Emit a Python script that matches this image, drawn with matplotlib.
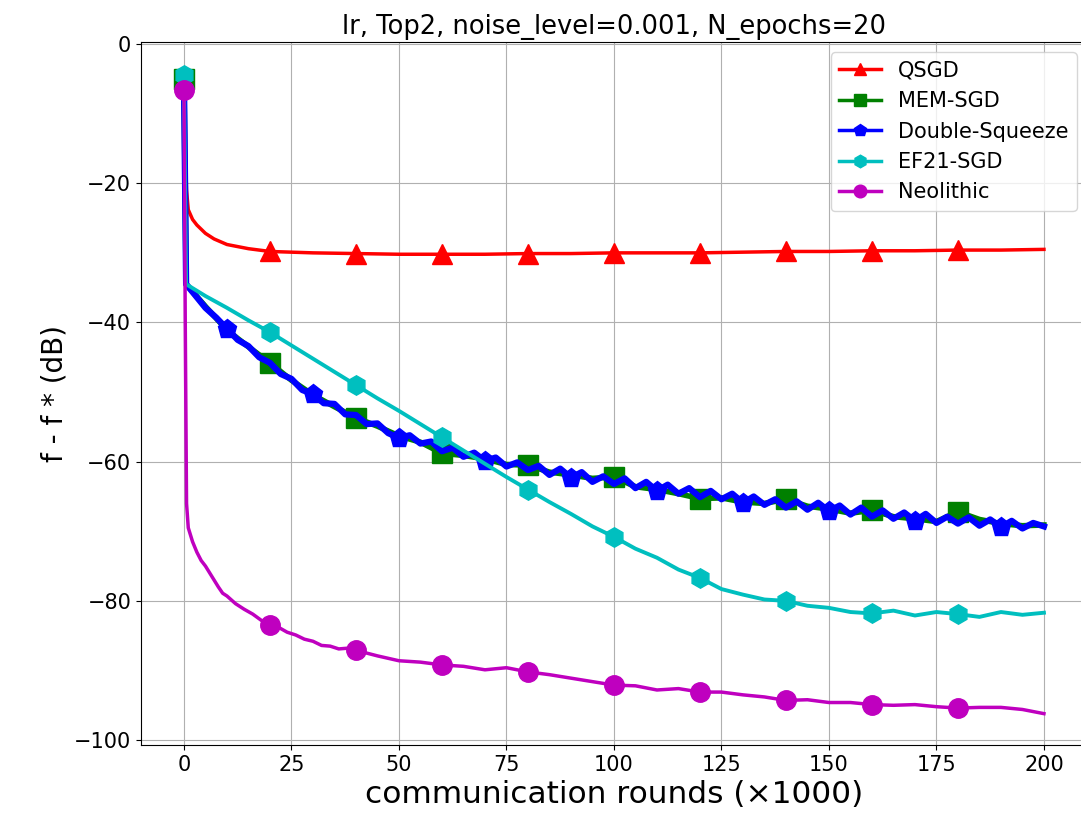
import matplotlib
matplotlib.use("Agg")
import matplotlib.pyplot as plt
import numpy as np

# x en miles de rondas de comunicacion
# QSGD
x_qsgd = [0, 0.3, 0.6, 1, 2, 3, 5, 7, 10, 15, 20, 30, 40, 50, 60, 70, 80, 90, 100,
          110, 120, 130, 140, 150, 160, 170, 180, 190, 200]
y_qsgd = [-5.0, -15.0, -21.0, -23.8, -25.2, -26.0, -27.2, -28.0, -28.8, -29.4, -29.8,
          -30.0, -30.1, -30.2, -30.2, -30.2, -30.1, -30.1, -30.0, -30.0, -30.0, -29.9,
          -29.8, -29.8, -29.7, -29.7, -29.6, -29.6, -29.5]

# MEM-SGD
x_mem = np.concatenate([[0, 0.5], np.arange(5, 200.1, 5)])
y_mem = [-5.0, -34.5,
         -37.7, -41.1, -43.5, -45.8, -48.3, -50.4, -52.1, -53.7,
         -54.9, -56.3, -57.2, -58.8, -59.1, -59.6, -60.4, -60.5,
         -61.5, -61.9, -62.4, -62.2, -63.6, -64.0, -64.6, -65.3,
         -65.2, -65.8, -66.0, -65.4, -66.4, -66.8, -67.4, -67.0,
         -67.9, -68.2, -68.6, -67.2, -68.3, -68.9, -69.2, -69.1]

# Double-Squeeze
x_ds = np.concatenate([[0, 0.5], np.arange(2.5, 200.1, 2.5)])
y_ds = [-5.0, -34.5,
        -36.0, -37.9, -39.3, -40.9, -42.5, -43.4, -45.0, -45.8,
        -47.4, -48.1, -49.7, -50.3, -51.6, -51.7, -53.2, -53.3,
        -54.6, -54.5, -55.9, -56.6, -56.2, -57.4, -57.1, -58.5,
        -58.0, -59.3, -58.7, -59.9, -59.4, -60.7, -60.1, -61.2,
        -60.6, -61.9, -61.0, -62.3, -61.5, -62.9, -62.1, -63.2,
        -62.4, -63.8, -62.9, -64.2, -63.3, -64.6, -63.8, -65.1,
        -64.2, -65.4, -64.6, -65.9, -65.0, -66.2, -65.4, -66.6,
        -65.7, -66.9, -65.9, -67.1, -66.3, -67.6, -66.6, -67.9,
        -67.0, -68.2, -67.3, -68.5, -67.5, -68.8, -67.9, -68.9,
        -68.0, -69.2, -68.3, -69.4, -68.5, -69.6, -68.8, -69.3]

# EF21-SGD
x_ef = np.concatenate([[0, 0.5], np.arange(5, 200.1, 5)])
y_ef = [-4.5, -34.5,
        -36.2, -37.9, -39.7, -41.4, -43.3, -45.2, -47.1, -49.0,
        -50.9, -52.7, -54.6, -56.5, -58.4, -60.3, -62.2, -64.0,
        -65.8, -67.5, -69.3, -70.8, -72.5, -73.8, -75.5, -76.7,
        -78.3, -79.1, -79.8, -80.0, -80.7, -81.0, -81.6, -81.8,
        -81.4, -82.1, -81.6, -81.9, -82.3, -81.6, -82.0, -81.7]

# Neolithic
x_neo = [0, 0.3, 0.6, 1, 1.5, 2, 3, 4, 5, 6, 7, 8, 9, 10, 12, 14, 16, 18, 20, 22, 24,
         26, 28, 30, 32, 34, 36, 38, 40, 45, 50, 55, 60, 65, 70, 75, 80, 85, 90, 95,
         100, 105, 110, 115, 120, 125, 130, 135, 140, 145, 150, 155, 160, 165, 170,
         175, 180, 185, 190, 195, 200]
y_neo = [-6.6, -40.0, -66.0, -69.5, -70.5, -71.5, -73.0, -74.2, -75.0, -76.0, -77.0,
         -78.0, -78.9, -79.3, -80.4, -81.2, -81.9, -82.8, -83.5, -83.8, -84.5, -84.9,
         -85.5, -85.8, -86.4, -86.5, -86.9, -86.8, -87.1, -87.9, -88.6, -88.8, -89.2,
         -89.4, -89.9, -89.6, -90.2, -90.6, -91.1, -91.6, -92.1, -92.2, -92.8, -92.6,
         -93.1, -93.1, -93.5, -93.8, -94.3, -94.2, -94.6, -94.6, -94.9, -95.0, -94.9,
         -95.2, -95.4, -95.3, -95.3, -95.6, -96.2]

marcas = [0, 20, 40, 60, 80, 100, 120, 140, 160, 180]
marcas_ds = [10, 30, 50, 70, 90, 110, 130, 150, 170, 190]

def indices(x, m):
    return [i for i, v in enumerate(x) if v in m]

fig = plt.figure(figsize=(10.81, 8.21), dpi=100)
ax = fig.add_axes([0.1304, 0.0926, 0.8751, 0.8563])

ax.plot(x_qsgd, y_qsgd, '-^', color='r', linewidth=2.5, markersize=14,
        markevery=indices(x_qsgd, marcas), label='QSGD')
ax.plot(x_mem, y_mem, '-s', color='g', linewidth=4, markersize=14,
        markevery=indices(x_mem, marcas), label='MEM-SGD')
ax.plot(x_ds, y_ds, '-p', color='b', linewidth=4.5, markersize=14,
        markevery=indices(x_ds, marcas_ds), label='Double-Squeeze')
ax.plot(x_ef, y_ef, '-h', color='c', linewidth=2.8, markersize=14,
        markevery=indices(x_ef, marcas), label='EF21-SGD')
ax.plot(x_neo, y_neo, '-o', color='m', linewidth=2.5, markersize=14,
        markevery=indices(x_neo, marcas), label='Neolithic')

ax.set_xlim(-10, 210)
ax.set_ylim(-100.7, 0.3)
ax.set_xticks([0, 25, 50, 75, 100, 125, 150, 175, 200])
ax.set_yticks([0, -20, -40, -60, -80, -100])
ax.tick_params(labelsize=15)
ax.grid(True)
ax.set_xlabel('communication rounds (×1000)', fontsize=22.5)
ax.set_ylabel('f - f * (dB)', fontsize=20)
ax.set_title('lr, Top2, noise_level=0.001, N_epochs=20', fontsize=18.5)
leg = ax.legend(loc='upper right', fontsize=15, markerscale=0.65)
for linea in leg.get_lines():
    linea.set_linewidth(2.5)

fig.savefig('out.png', dpi=100)
